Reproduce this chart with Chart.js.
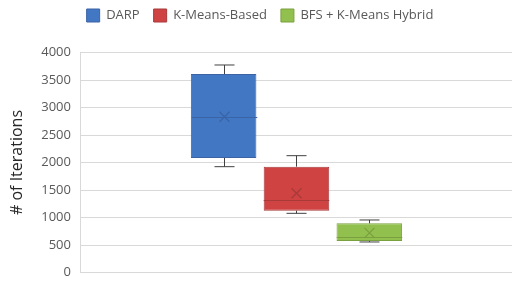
<!DOCTYPE html>
<html>
<head>
<meta charset="utf-8">
<script src="https://cdn.jsdelivr.net/npm/chart.js@4/dist/chart.umd.min.js"></script>
<style>
  html, body { margin: 0; padding: 0; background: #fff; }
  #wrap { width: 518px; height: 282px; position: relative; }
</style>
</head>
<body>
<div id="wrap"><canvas id="chart"></canvas></div>
<script>
// box plot values
const seriesNames = ['DARP', 'K-Means-Based', 'BFS + K-Means Hybrid'];
const mins    = [1924, 1076, 555];
const q1s     = [2082, 1124, 573];
const medians = [2833, 1318, 640];
const q3s     = [3609, 1924, 895];
const maxs    = [3773, 2124, 955];
const means   = [2833, 1440, 720];
const yTicks  = [0, 500, 1000, 1500, 2000, 2500, 3000, 3500, 4000];

const fills   = ['#4277c4', '#cf4343', '#92c04f'];
const borders = ['#3a64a6', '#a83a3a', '#7aa03f'];

// give the legend a fixed height so the plot starts lower
const legendHeight = {
    id: 'legendHeight',
    beforeInit(chart) {
        const fit = chart.legend.fit;
        chart.legend.fit = function() {
            fit.call(this);
            this.height = 57.5;
        };
    }
};

// whiskers, median and mean drawn on top of the floating bars
const boxExtras = {
    id: 'boxExtras',
    afterDatasetsDraw(chart) {
        const ctx = chart.ctx;
        const y = chart.scales.y;
        seriesNames.forEach((name, i) => {
            const bar = chart.getDatasetMeta(i).data[0];
            if (!bar) return;
            const cx = Math.round(bar.x) + 0.5;
            const half = bar.width / 2;
            ctx.save();
            ctx.strokeStyle = '#404040';
            ctx.lineWidth = 1;
            ctx.beginPath();
            // upper whisker
            ctx.moveTo(cx, y.getPixelForValue(q3s[i]));
            ctx.lineTo(cx, y.getPixelForValue(maxs[i]));
            ctx.moveTo(cx - 10, y.getPixelForValue(maxs[i]));
            ctx.lineTo(cx + 10, y.getPixelForValue(maxs[i]));
            // lower whisker
            ctx.moveTo(cx, y.getPixelForValue(q1s[i]));
            ctx.lineTo(cx, y.getPixelForValue(mins[i]));
            ctx.moveTo(cx - 10, y.getPixelForValue(mins[i]));
            ctx.lineTo(cx + 10, y.getPixelForValue(mins[i]));
            ctx.stroke();
            // median
            ctx.strokeStyle = borders[i];
            ctx.beginPath();
            const my = Math.round(y.getPixelForValue(medians[i])) + 0.5;
            ctx.moveTo(cx - half, my);
            ctx.lineTo(cx + half, my);
            ctx.stroke();
            // mean marker
            const ay = y.getPixelForValue(means[i]);
            ctx.lineWidth = 1.3;
            ctx.beginPath();
            ctx.moveTo(cx - 5, ay - 5);
            ctx.lineTo(cx + 5, ay + 5);
            ctx.moveTo(cx + 5, ay - 5);
            ctx.lineTo(cx - 5, ay + 5);
            ctx.stroke();
            ctx.restore();
        });
    }
};

new Chart(document.getElementById('chart'), {
    type: 'bar',
    data: {
        labels: [''],
        datasets: seriesNames.map((name, i) => ({
            label: name,
            data: [[q1s[i], q3s[i]]],
            backgroundColor: fills[i],
            borderColor: borders[i],
            borderWidth: 1,
            borderSkipped: false
        }))
    },
    options: {
        responsive: true,
        maintainAspectRatio: false,
        animation: false,
        categoryPercentage: 0.507,
        barPercentage: 0.9,
        layout: { padding: { left: 8, right: 6, top: -5, bottom: 9.5 } },
        plugins: {
            legend: {
                position: 'top',
                labels: {
                    boxWidth: 13,
                    boxHeight: 13,
                    padding: 14,
                    color: '#595959',
                    font: { family: 'Open Sans', size: 13 }
                }
            },
            tooltip: { enabled: false }
        },
        scales: {
            x: {
                display: false
            },
            y: {
                min: 0,
                max: 4000,
                afterBuildTicks: (scale) => { scale.ticks = yTicks.map(v => ({ value: v })); },
                afterFit: (scale) => { scale.paddingTop = 0; scale.paddingBottom = 0; },
                grid: { color: '#d9d9d9', drawTicks: false },
                border: { color: '#d9d9d9' },
                ticks: {
                    color: '#595959',
                    padding: 10,
                    callback: (value) => String(value),
                    font: { family: 'Open Sans', size: 13 }
                },
                title: {
                    display: true,
                    text: '# of Iterations',
                    color: '#262626',
                    padding: { top: 0, bottom: 4 },
                    font: { family: 'Open Sans', size: 16 }
                }
            }
        }
    },
    plugins: [legendHeight, boxExtras]
});
</script>
</body>
</html>
